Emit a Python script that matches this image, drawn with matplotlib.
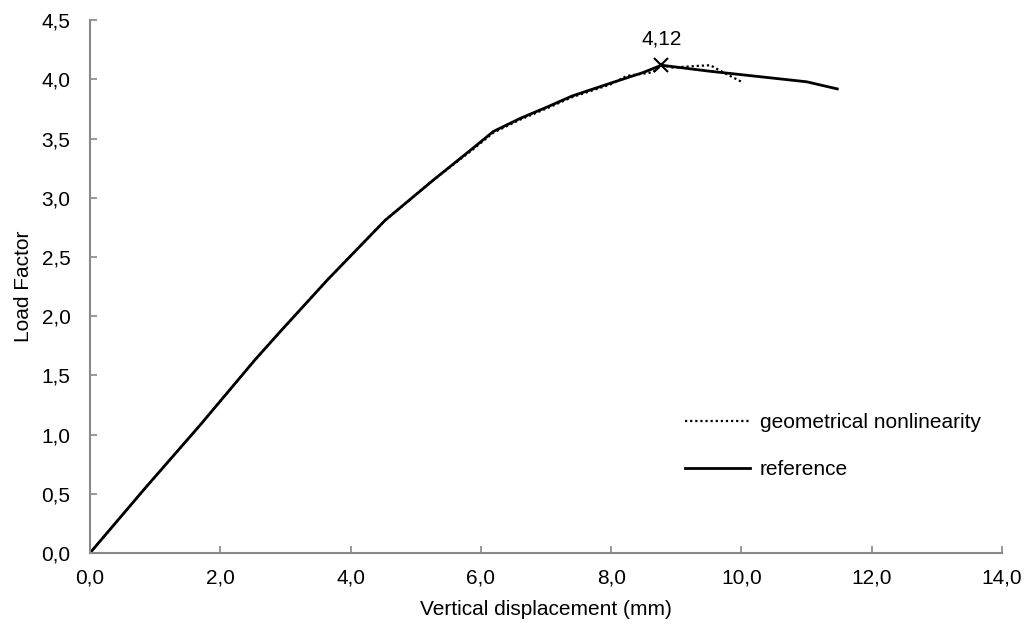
import matplotlib.pyplot as plt
from matplotlib.ticker import FuncFormatter, MultipleLocator

plt.rcParams['font.family'] = ['Liberation Sans', 'DejaVu Sans']

# reference curve (solid)
ref_x = [0.0, 0.85, 1.69, 2.53, 2.92, 3.65, 4.09, 4.53, 5.27, 5.88, 6.19, 6.6, 7.03,
         7.4, 8.0, 8.5, 8.77, 9.5, 10.0, 11.0, 11.47]
ref_y = [0.0, 0.55, 1.08, 1.63, 1.87, 2.31, 2.56, 2.81, 3.15, 3.42, 3.56, 3.67, 3.77,
         3.86, 3.97, 4.06, 4.12, 4.07, 4.04, 3.98, 3.92]

# geometrical nonlinearity (dotted)
geo_x = [0.0, 0.85, 1.69, 2.53, 2.92, 3.65, 4.09, 4.53, 5.27, 5.88, 6.19, 6.6, 7.03,
         7.4, 8.0, 8.24, 8.64, 8.77, 8.95, 9.2, 9.52, 9.72, 10.0]
geo_y = [0.0, 0.55, 1.08, 1.63, 1.87, 2.31, 2.56, 2.81, 3.15, 3.41, 3.55, 3.66, 3.76,
         3.85, 3.96, 4.03, 4.06, 4.12, 4.10, 4.11, 4.12, 4.06, 3.98]

peak_x = 8.77
peak_y = 4.12

comma = FuncFormatter(lambda v, p: f"{v:.1f}".replace('.', ','))

fig = plt.figure(figsize=(10.26, 6.32), dpi=100)
ax = fig.add_axes([0.0877, 0.125, 0.889, 0.843])

ax.plot(geo_x, geo_y, color='black', linestyle=(0, (1, 1.3)), lw=1.6,
        label='geometrical nonlinearity')
ax.plot(ref_x, ref_y, color='black', lw=2.0, label='reference')
ax.plot([peak_x], [peak_y], marker='x', color='black', markersize=10, mew=1.5)
ax.annotate(f"{peak_y:.2f}".replace('.', ','), (peak_x, peak_y), xytext=(0, 12),
            textcoords='offset points', ha='center', va='bottom', fontsize=15)

ax.set_xlim(0, 14)
ax.set_ylim(0, 4.5)
ax.xaxis.set_major_locator(MultipleLocator(2))
ax.yaxis.set_major_locator(MultipleLocator(0.5))
ax.xaxis.set_major_formatter(comma)
ax.yaxis.set_major_formatter(comma)

for s in ['top', 'right']:
    ax.spines[s].set_visible(False)
for s in ['left', 'bottom']:
    ax.spines[s].set_color('#888888')
    ax.spines[s].set_linewidth(1.5)
ax.tick_params(direction='in', length=5, width=1.2, color='#888888',
               labelsize=15)
ax.tick_params(axis='x', pad=11)
ax.tick_params(axis='y', pad=14)

ax.set_xlabel("Vertical displacement (mm)", fontsize=15, labelpad=9)
ax.set_ylabel("Load Factor", fontsize=15, labelpad=6)

ax.legend(loc='upper left', bbox_to_anchor=(0.641, 0.282), frameon=False,
          fontsize=15, handlelength=3.1, handletextpad=0.5, labelspacing=1.35,
          borderpad=0)

fig.savefig('out.png', dpi=100)
